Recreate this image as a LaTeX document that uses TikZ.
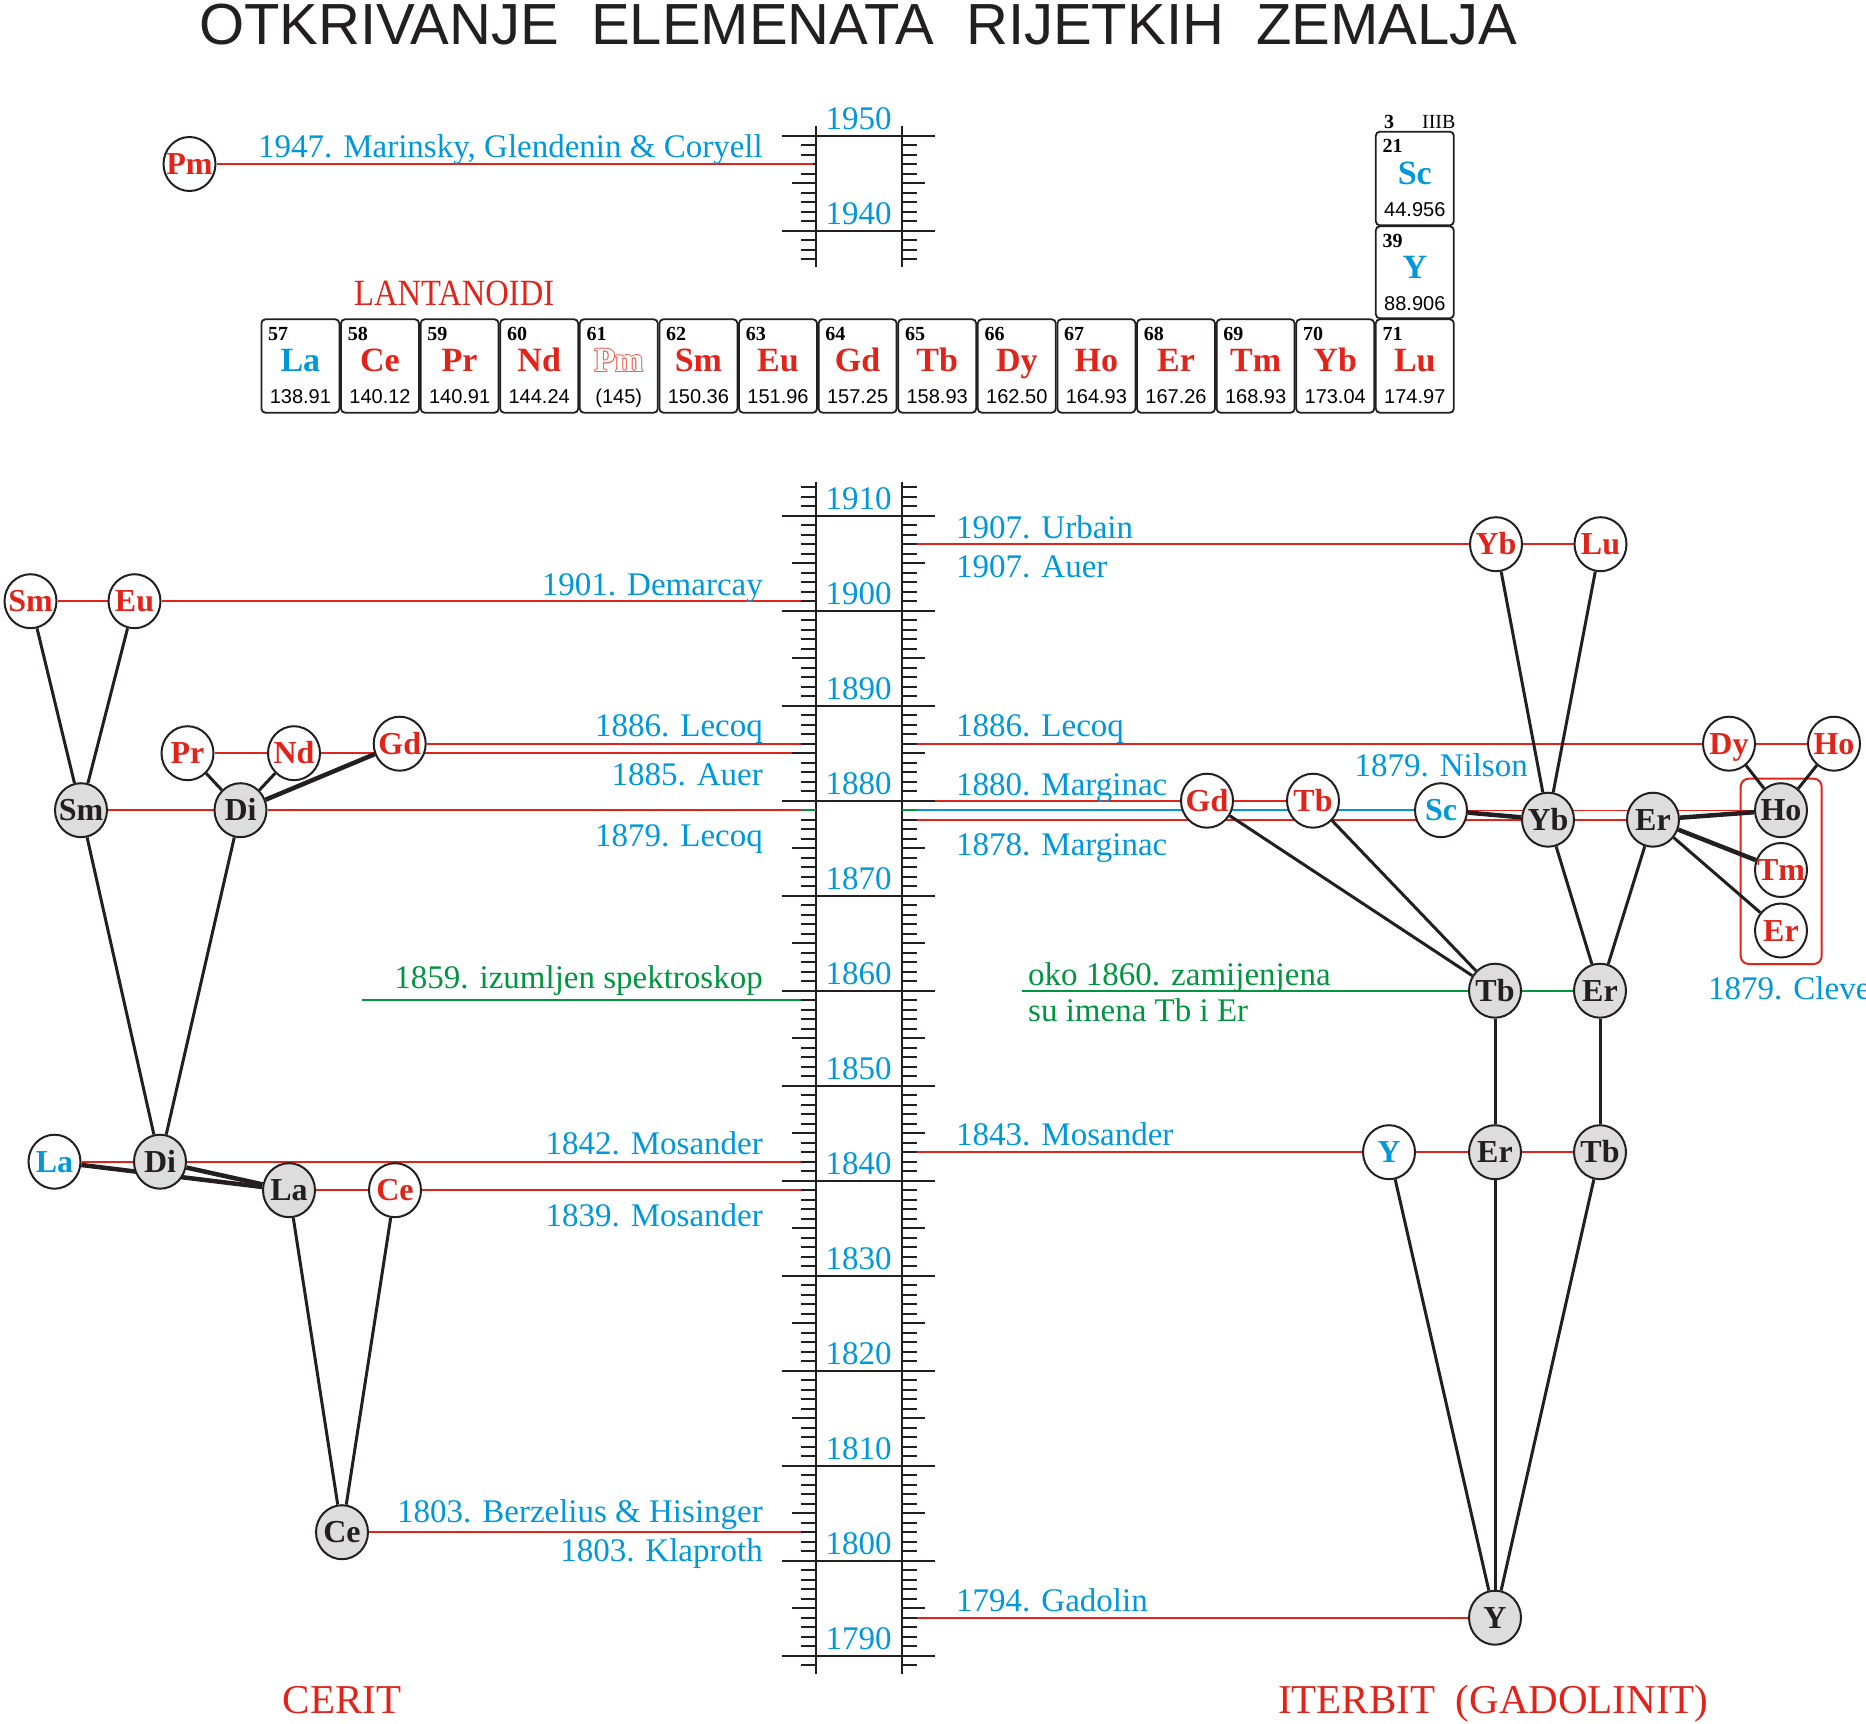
\documentclass[tikz,border=0pt]{standalone}
\usepackage{fontspec}
\setmainfont{Liberation Serif}
\setsansfont{Liberation Sans}
\usetikzlibrary{shapes.geometric}
\definecolor{cred}{RGB}{226,35,26}
\definecolor{cblue}{RGB}{0,152,218}
\definecolor{cgreen}{RGB}{0,150,64}
\definecolor{cgray}{RGB}{221,221,221}
\definecolor{cpink}{RGB}{236,100,80}
\definecolor{cblack}{RGB}{35,31,32}
\pgfdeclarelayer{bg}
\pgfsetlayers{bg,main}
\newcommand\eltx[1]{\makebox[0pt][c]{#1}}
\begin{document}
\begin{tikzpicture}[x=1pt,y=-1pt,
  elnode/.style={ellipse, draw=cblack, line width=2pt, minimum width=52pt, minimum height=54pt, inner sep=0pt, text height=21pt, text depth=0pt, font=\fontsize{32}{32}\selectfont\bfseries},
  ew/.style={elnode, fill=white},
  eg/.style={elnode, fill=cgray, text=cblack},
  rl/.style={draw=cred, line width=2.2pt},
  rthin/.style={draw=cred, line width=1.1pt},
  bl/.style={draw=cblue, line width=2.2pt},
  gl/.style={draw=cgreen, line width=2.2pt},
  kl/.style={draw=cblack, line width=3pt},
  kt/.style={draw=cblack, line width=4.5pt},
  ax/.style={draw=cblack, line width=2.4pt},
  tk/.style={draw=cblack, line width=2pt},
  pbox/.style={draw=cblack, line width=1.8pt, rounded corners=4pt},
  numf/.style={font=\bfseries\fontsize{20}{20}\selectfont, inner sep=0pt},
  symf/.style={font=\bfseries\fontsize{34}{34}\selectfont, inner sep=0pt},
  massf/.style={font=\sffamily\fontsize{20}{20}\selectfont, inner sep=0pt},
  ann/.style={font=\fontsize{33}{38}\selectfont, text=cblue, inner sep=0pt},
  yr/.style={ann, anchor=base},
  big/.style={font=\fontsize{41}{44}\selectfont, text=cred, inner sep=0pt, anchor=base west}
]
\useasboundingbox (0,0) rectangle (1866,1724);

% ---------- title ----------
\node[anchor=base west, inner sep=0pt, font=\sffamily\fontsize{58}{60}\selectfont, text=cblack] (title) at (199,44.5) {OTKRIVANJE\ \ ELEMENATA\ \ RIJETKIH\ \ ZEMALJA};

% ---------- time axis ----------
\begin{pgfonlayer}{bg}
\draw[ax] (815.7,481.7) -- (815.7,1674);
\draw[ax] (901.7,481.7) -- (901.7,1674);
\draw[ax] (815.7,126) -- (815.7,266.7);
\draw[ax] (901.7,126) -- (901.7,266.7);
\foreach \yr in {1789,...,1913} {
  \pgfmathsetmacro\yy{800.7-(\yr-1880)*9.5}
  \pgfmathtruncatemacro\mten{mod(\yr,10)}
  \pgfmathtruncatemacro\mfive{mod(\yr,5)}
  \ifnum\mten=0
    \draw[ax] (781.7,\yy) -- (935,\yy);
  \else\ifnum\mfive=0
    \draw[tk] (792,\yy) -- (815.7,\yy); \draw[tk] (901.7,\yy) -- (925,\yy);
  \else
    \draw[tk] (801,\yy) -- (815.7,\yy); \draw[tk] (901.7,\yy) -- (916.7,\yy);
  \fi\fi
}
\foreach \yr in {1937,...,1950} {
  \pgfmathsetmacro\yy{800.7-(\yr-1880)*9.5}
  \pgfmathtruncatemacro\mten{mod(\yr,10)}
  \pgfmathtruncatemacro\mfive{mod(\yr,5)}
  \ifnum\mten=0
    \draw[ax] (781.7,\yy) -- (935,\yy);
  \else\ifnum\mfive=0
    \draw[tk] (792,\yy) -- (815.7,\yy); \draw[tk] (901.7,\yy) -- (925,\yy);
  \else
    \draw[tk] (801,\yy) -- (815.7,\yy); \draw[tk] (901.7,\yy) -- (916.7,\yy);
  \fi\fi
}
\end{pgfonlayer}
\foreach \yr in {1790,1800,...,1910} {
  \pgfmathsetmacro\yy{800.7-(\yr-1880)*9.5}
  \node[yr] (yl\yr) at (858.7,\yy-6) {\yr};
}
\foreach \yr in {1940,1950} {
  \pgfmathsetmacro\yy{800.7-(\yr-1880)*9.5}
  \node[yr] (yl\yr) at (858.7,\yy-6) {\yr};
}

% ---------- periodic table ----------
\foreach \i/\num/\sym/\mass/\col in {0/57/La/138.91/cblue,1/58/Ce/140.12/cred,2/59/Pr/140.91/cred,3/60/Nd/144.24/cred,5/62/Sm/150.36/cred,6/63/Eu/151.96/cred,7/64/Gd/157.25/cred,8/65/Tb/158.93/cred,9/66/Dy/162.50/cred,10/67/Ho/164.93/cred,11/68/Er/167.26/cred,12/69/Tm/168.93/cred,13/70/Yb/173.04/cred,14/71/Lu/174.97/cred}{
  \pgfmathsetmacro\bx{261.4+79.6*\i}
  \draw[pbox] (\bx,319.3) rectangle ++(78,93.4);
  \node[numf,anchor=base west] (z\num) at (\bx+6.6,340) {\num};
  \node[symf,anchor=base,text=\col] (s\num) at (\bx+39,371.7) {\sym};
  \node[massf,anchor=base] (m\num) at (\bx+39,403.3) {\mass};
}
% Pm box
\draw[pbox] (579.8,319.3) rectangle ++(78,93.4);
\node[numf,anchor=base west] (z61) at (586.4,340) {61};
\foreach \dx/\dy [count=\k] in {-1/0,1/0,0/-1,0/1,-0.7/-0.7,0.7/-0.7,-0.7/0.7,0.7/0.7}
  \node[symf,anchor=base,text=cpink] (pmo\k) at (618.8+\dx,371.7+\dy) {Pm};
\node[symf,anchor=base,text=white] (s61) at (618.8,371.7) {Pm};
\node[massf,anchor=base] (m61) at (618.8,403.3) {(145)};
% Sc and Y
\draw[pbox] (1375.8,131.7) rectangle ++(78,93.6);
\node[numf,anchor=base west] (z21) at (1382.4,152.4) {21};
\node[symf,anchor=base,text=cblue] (s21) at (1414.8,184.1) {Sc};
\node[massf,anchor=base] (m21) at (1414.8,216.7) {44.956};
\draw[pbox] (1375.8,226.3) rectangle ++(78,92);
\node[numf,anchor=base west] (z39) at (1382.4,247) {39};
\node[symf,anchor=base,text=cblue] (s39) at (1414.8,278.7) {Y};
\node[massf,anchor=base] (m39) at (1414.8,310.3) {88.906};
\node[numf,anchor=base west] (grp) at (1384,128.3) {3};
\node[anchor=base east, inner sep=0pt, font=\fontsize{20}{20}\selectfont] (grpr) at (1455.6,128.3) {IIIB};
\node[anchor=base west, inner sep=0pt, text=cred, font=\fontsize{37}{40}\selectfont] (lant) at (354,305) {\scalebox{0.88}[1]{LANTANOIDI}};

% ---------- element nodes, left ----------
\node[ew,text=cred] (pm) at (189.5,164) {\eltx{Pm}};
\node[ew,text=cred] (sm1) at (30.5,601.2) {\eltx{Sm}};
\node[ew,text=cred] (eu) at (134.5,601.2) {\eltx{Eu}};
\node[ew,text=cred] (pr) at (187.5,753.2) {\eltx{Pr}};
\node[ew,text=cred] (nd) at (294,753.2) {\eltx{Nd}};
\node[ew,text=cred] (gdl) at (399.7,743.7) {\eltx{Gd}};
\node[eg] (sm2) at (81,810.2) {\eltx{Sm}};
\node[eg] (di1) at (240.5,810.2) {\eltx{Di}};
\node[ew,text=cblue] (lab) at (54.5,1161.7) {\eltx{La}};
\node[eg] (di2) at (160,1161.7) {\eltx{Di}};
\node[eg] (lag) at (289,1190.2) {\eltx{La}};
\node[ew,text=cred] (cer) at (395,1190.2) {\eltx{Ce}};
\node[eg] (ceg) at (342,1532.2) {\eltx{Ce}};
% ---------- element nodes, right ----------
\node[ew,text=cred] (ybr) at (1496,544.2) {\eltx{Yb}};
\node[ew,text=cred] (lu) at (1600.5,544.2) {\eltx{Lu}};
\node[ew,text=cred] (dy) at (1729,743.7) {\eltx{Dy}};
\node[ew,text=cred] (hor) at (1834,743.7) {\eltx{Ho}};
\node[ew,text=cred] (gdr) at (1207,800.7) {\eltx{Gd}};
\node[ew,text=cred] (tbr) at (1313,800.7) {\eltx{Tb}};
\node[ew,text=cblue] (sc) at (1441,810.2) {\eltx{Sc}};
\node[eg] (ybg) at (1548,819.7) {\eltx{Yb}};
\node[eg] (erg) at (1653,819.7) {\eltx{Er}};
\node[eg] (hog) at (1781,810.2) {\eltx{Ho}};
\node[ew,text=cred] (tm) at (1781,870) {\eltx{Tm}};
\node[ew,text=cred] (err) at (1781,930.5) {\eltx{Er}};
\node[eg] (tbg) at (1495,990.7) {\eltx{Tb}};
\node[eg] (erg2) at (1600,990.7) {\eltx{Er}};
\node[ew,text=cblue] (yb) at (1389,1152.2) {\eltx{Y}};
\node[eg] (erg3) at (1495,1152.2) {\eltx{Er}};
\node[eg] (tbg2) at (1600,1152.2) {\eltx{Tb}};
\node[eg] (yg) at (1495,1617.7) {\eltx{Y}};

% ---------- axis end points ----------
\coordinate (aL1947) at (812.5,164);
\coordinate (aL1901) at (801,601.2);
\coordinate (aL1886) at (801,743.7);
\coordinate (aL1885) at (792,753.2);
\coordinate (aL1879) at (801,810.2);
\coordinate (aL1879g) at (815.7,810.2);
\coordinate (gL1859a) at (362,1000.2);
\coordinate (gL1859b) at (801,1000.2);
\coordinate (aL1842) at (801,1161.7);
\coordinate (aL1839) at (801,1190.2);
\coordinate (aL1803) at (801,1532.2);
\coordinate (aR1907) at (916.7,544.2);
\coordinate (aR1886) at (916.7,743.7);
\coordinate (aR1880) at (935,800.7);
\coordinate (aR1879g) at (901.7,810.2);
\coordinate (aR1879) at (916.7,810.2);
\coordinate (aR1878) at (916.7,819.7);
\coordinate (gR1860) at (1022,990.7);
\coordinate (aR1843) at (916.7,1152.2);
\coordinate (aR1794) at (916.7,1617.7);

% ---------- connectors ----------
\begin{pgfonlayer}{bg}
\draw[draw=cred, line width=2pt, rounded corners=8pt] (1740.7,778.7) rectangle (1821.7,964);
% left red / green
\draw[rl] (pm) -- (aL1947);
\draw[rl] (sm1) -- (eu); \draw[rl] (eu) -- (aL1901);
\draw[rl] (gdl) -- (aL1886);
\draw[rl] (pr) -- (nd); \draw[rl] (nd) -- (aL1885);
\draw[rl] (sm2) -- (di1); \draw[rl] (di1) -- (aL1879);
\draw[gl] (aL1879) -- (aL1879g);
\draw[gl] (gL1859a) -- (gL1859b);
\draw[rl] (lab) -- (di2); \draw[rl] (di2) -- (aL1842);
\draw[rl] (lag) -- (cer); \draw[rl] (cer) -- (aL1839);
\draw[rl] (ceg) -- (aL1803);
% right red / blue / green
\draw[rl] (aR1907) -- (ybr); \draw[rl] (ybr) -- (lu);
\draw[rl] (aR1886) -- (dy); \draw[rl] (dy) -- (hor);
\draw[rl] (aR1880) -- (gdr); \draw[rl] (gdr) -- (tbr);
\draw[gl] (aR1879g) -- (aR1879);
\draw[bl] (aR1879) -- (sc);
\draw[rl] (aR1878) -- (ybg); \draw[rl] (ybg) -- (erg);
\draw[rthin] (sc) -- (hog);
\draw[gl] (gR1860) -- (tbg); \draw[gl] (tbg) -- (erg2);
\draw[rl] (aR1843) -- (yb); \draw[rl] (yb) -- (erg3); \draw[rl] (erg3) -- (tbg2);
\draw[rl] (aR1794) -- (yg);
% left black
\draw[kl] (sm1) -- (sm2);
\draw[kl] (eu) -- (sm2);
\draw[kl] (pr) -- (di1);
\draw[kl] (nd) -- (di1);
\draw[kt] (gdl) -- (di1);
\draw[kl] (sm2) -- (di2);
\draw[kl] (di1) -- (di2);
\draw[kt] (lab) -- (lag);
\draw[kt] (di2) -- (lag);
\draw[kl] (lag) -- (ceg);
\draw[kl] (cer) -- (ceg);
% right black
\draw[kl] (ybr) -- (ybg);
\draw[kl] (lu) -- (ybg);
\draw[kl] (gdr) -- (tbg);
\draw[kl] (tbr) -- (tbg);
\draw[kl] (ybg) -- (erg2);
\draw[kl] (erg) -- (erg2);
\draw[kt] (sc) -- (ybg);
\draw[kt] (erg) -- (hog);
\draw[kt] (erg) -- (tm);
\draw[kl] (erg) -- (err);
\draw[kl] (dy) -- (hog);
\draw[kl] (hor) -- (hog);
\draw[kl] (tbg) -- (erg3);
\draw[kl] (erg2) -- (tbg2);
\draw[kl] (yb) -- (yg);
\draw[kl] (erg3) -- (yg);
\draw[kl] (tbg2) -- (yg);
\end{pgfonlayer}

% ---------- annotations ----------
\node[ann,anchor=base east] (t1947) at (763,157.3) {1947. Marinsky, Glendenin \& Coryell};
\node[ann,anchor=base east] (t1901) at (763,595) {1901. Demarcay};
\node[ann,anchor=base east] (t1886l) at (763,736.7) {1886. Lecoq};
\node[ann,anchor=base east] (t1885) at (763,785) {1885. Auer};
\node[ann,anchor=base east] (t1879l) at (763,846.7) {1879. Lecoq};
\node[ann,anchor=base east,text=cgreen] (t1859) at (763,988.3) {1859. izumljen spektroskop};
\node[ann,anchor=base east] (t1842) at (763,1154) {1842. Mosander};
\node[ann,anchor=base east] (t1839) at (763,1226.7) {1839. Mosander};
\node[ann,anchor=base east] (t1803a) at (763,1522.7) {1803. Berzelius \& Hisinger};
\node[ann,anchor=base east] (t1803b) at (763,1561.7) {1803. Klaproth};
\node[ann,anchor=base west] (t1907a) at (956,538) {1907. Urbain};
\node[ann,anchor=base west] (t1907b) at (956,577) {1907. Auer};
\node[ann,anchor=base west] (t1886r) at (956,736.7) {1886. Lecoq};
\node[ann,anchor=base west] (t1880) at (956,795) {1880. Marginac};
\node[ann,anchor=base west] (t1878) at (956,855) {1878. Marginac};
\node[ann,anchor=base east] (t1879n) at (1528,776.7) {1879. Nilson};
\node[ann,anchor=base west] (t1879c) at (1708,999) {1879. Cleve};
\node[ann,anchor=base west,text=cgreen] (t1860a) at (1028,985) {oko 1860. zamijenjena};
\node[ann,anchor=base west,text=cgreen] (t1860b) at (1028,1021) {su imena Tb i Er};
\node[ann,anchor=base west] (t1843) at (956,1145) {1843. Mosander};
\node[ann,anchor=base west] (t1794) at (956,1611.7) {1794. Gadolin};
\node[big] (cerit) at (282.7,1713) {CERIT};
\node[big] (iterbit) at (1278,1713) {ITERBIT\ \ (GADOLINIT)};
\end{tikzpicture}
\end{document}
